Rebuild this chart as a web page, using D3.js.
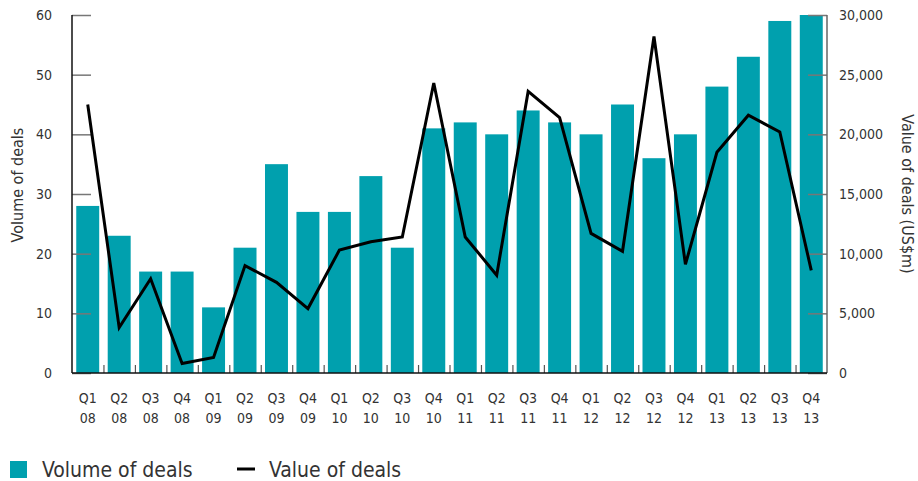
<!DOCTYPE html>
<html lang="en">
<head>
<meta charset="UTF-8">
<title>Volume and value of deals</title>
<script src="https://d3js.org/d3.v7.min.js"></script>
<style>
    body { margin: 0; background: #fff; }
    svg text {
        font-family: "Liberation Sans Narrow", "DejaVu Sans Condensed", "Arial Narrow", sans-serif;
        fill: #333;
    }
    .axis text { font-size: 14px; }
    .axis .domain { display: none; }
</style>
</head>
<body>
<svg></svg>
<script>
    // quarters, "Qn yy"
    var quarters = ["Q1 08", "Q2 08", "Q3 08", "Q4 08",
                    "Q1 09", "Q2 09", "Q3 09", "Q4 09",
                    "Q1 10", "Q2 10", "Q3 10", "Q4 10",
                    "Q1 11", "Q2 11", "Q3 11", "Q4 11",
                    "Q1 12", "Q2 12", "Q3 12", "Q4 12",
                    "Q1 13", "Q2 13", "Q3 13", "Q4 13"];

    // number of deals (left axis)
    var volume = [28, 23, 17, 17, 11, 21, 35, 27, 27, 33, 21, 41,
                  42, 40, 44, 42, 40, 45, 36, 40, 48, 53, 59, 60];

    // value of deals, US$m (right axis)
    var value = [22500, 3800, 7900, 800, 1300, 9000, 7600, 5400, 10300, 11000, 11400, 24300,
                 11400, 8200, 23600, 21400, 11700, 10200, 28200, 9100, 18500, 21600, 20200, 8600];

    var volumeTicks = [0, 10, 20, 30, 40, 50, 60];
    var valueTicks = [0, 5000, 10000, 15000, 20000, 25000, 30000];

    var w = 918, h = 481;
    var m = { left: 72, right: 827, top: 15, bottom: 373 };

    var svg = d3.select("svg").attr("width", w).attr("height", h);

    var x = d3.scaleBand()
        .domain(quarters)
        .range([m.left, m.right])
        .paddingInner(0.27)
        .paddingOuter(0.135);

    var idx = d3.scaleLinear().domain([0, quarters.length]).range([m.left, m.right]);

    var yVol = d3.scaleLinear().domain([0, 60]).range([m.bottom, m.top]);
    var yVal = d3.scaleLinear().domain([0, 30000]).range([m.bottom, m.top]);

    // bars
    svg.append("g").selectAll("rect")
        .data(volume)
        .join("rect")
        .attr("x", (d, i) => x(quarters[i]))
        .attr("y", d => yVol(d))
        .attr("width", x.bandwidth())
        .attr("height", d => yVol(0) - yVol(d))
        .attr("fill", "#00a0ae");

    // left axis
    var gl = svg.append("g")
        .attr("class", "axis")
        .attr("transform", "translate(" + m.left + ",0)")
        .call(d3.axisLeft(yVol).tickValues(volumeTicks).tickSizeInner(-19).tickSizeOuter(0).tickPadding(20));
    gl.selectAll(".tick line").attr("stroke", "#777").attr("stroke-width", 1.5);
    gl.append("line").attr("y1", m.top).attr("y2", m.bottom).attr("stroke", "#111").attr("stroke-width", 1.5);

    // right axis
    var gr = svg.append("g")
        .attr("class", "axis")
        .attr("transform", "translate(" + m.right + ",0)")
        .call(d3.axisRight(yVal).tickValues(valueTicks).tickSizeInner(-19).tickSizeOuter(0).tickPadding(12)
            .tickFormat(d3.format(",")));
    gr.selectAll(".tick line").attr("stroke", "#777").attr("stroke-width", 1.5);
    gr.append("line").attr("y1", m.top).attr("y2", m.bottom).attr("stroke", "#666").attr("stroke-width", 1.5);

    // bottom ticks between bars
    var gb = svg.append("g")
        .attr("class", "axis")
        .attr("transform", "translate(0," + m.bottom + ")")
        .call(d3.axisBottom(idx).tickValues(d3.range(1, quarters.length)).tickSizeInner(-8).tickSizeOuter(0).tickFormat(""));
    gb.selectAll(".tick line").attr("stroke", "#555").attr("stroke-width", 1.2);
    gb.append("line").attr("x1", m.left).attr("x2", m.right).attr("stroke", "#111").attr("stroke-width", 1.5);

    // quarter labels, two lines
    var gx = svg.append("g")
        .attr("class", "axis")
        .attr("transform", "translate(0," + m.bottom + ")")
        .call(d3.axisBottom(x).tickSize(0).tickFormat(""));
    gx.selectAll(".tick").each(function(d) {
        var parts = d.split(" ");
        var t = d3.select(this).append("text")
            .attr("text-anchor", "middle")
            .style("font-size", "14px");
        t.append("tspan").attr("x", 0).attr("y", 30).text(parts[0]);
        t.append("tspan").attr("x", 0).attr("y", 50).text(parts[1]);
    });

    // value line
    var line = d3.line()
        .x((d, i) => x(quarters[i]) + x.bandwidth() / 2)
        .y(d => yVal(d));

    svg.append("path")
        .datum(value)
        .attr("d", line)
        .attr("fill", "none")
        .attr("stroke", "#000")
        .attr("stroke-width", 3)
        .attr("stroke-linejoin", "miter");

    // axis titles
    svg.append("text")
        .attr("transform", "translate(23,185) rotate(-90)")
        .attr("text-anchor", "middle")
        .style("font-size", "16px")
        .text("Volume of deals");

    svg.append("text")
        .attr("transform", "translate(902,194) rotate(90)")
        .attr("text-anchor", "middle")
        .style("font-size", "16px")
        .text("Value of deals (US$m)");

    // legend
    var legend = svg.append("g");
    legend.append("rect")
        .attr("x", 10).attr("y", 461)
        .attr("width", 17).attr("height", 17)
        .attr("fill", "#00a0ae");
    legend.append("text")
        .attr("x", 42).attr("y", 477)
        .style("font-size", "21px")
        .text("Volume of deals");
    legend.append("line")
        .attr("x1", 237).attr("x2", 255)
        .attr("y1", 469).attr("y2", 469)
        .attr("stroke", "#000").attr("stroke-width", 3);
    legend.append("text")
        .attr("x", 269).attr("y", 477)
        .style("font-size", "21px")
        .text("Value of deals");
</script>
</body>
</html>
